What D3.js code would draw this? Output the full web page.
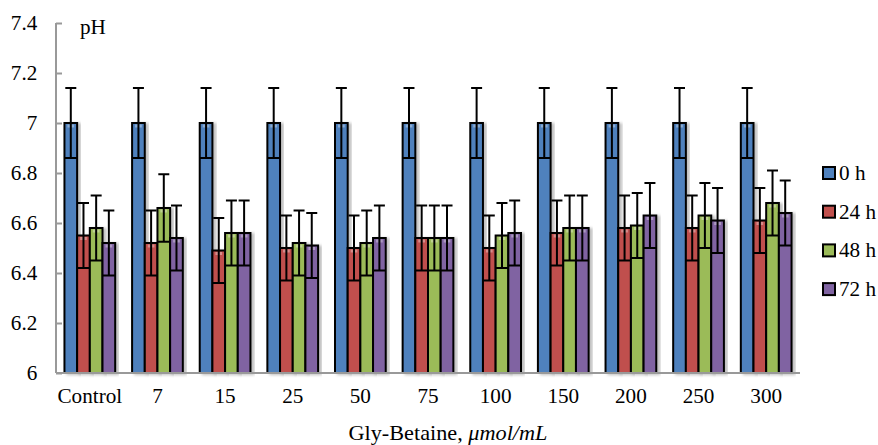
<!DOCTYPE html>
<html>
<head>
<meta charset="utf-8">
<script src="https://cdn.jsdelivr.net/npm/d3@7"></script>
<style>
html,body{margin:0;padding:0;background:#fff;}
svg text{font-family:"Liberation Serif","Times New Roman",serif;fill:#000;}
</style>
</head>
<body>
<svg id="chart" width="878" height="445"></svg>
<script>
const categories = ["Control","7","15","25","50","75","100","150","200","250","300"];
const seriesNames = ["0 h","24 h","48 h","72 h"];
const colors = ["#4F81BD","#C0504D","#9BBB59","#8064A2"];
const values0h  = [7.00,7.00,7.00,7.00,7.00,7.00,7.00,7.00,7.00,7.00,7.00];
const values24h = [6.55,6.52,6.49,6.50,6.50,6.54,6.50,6.56,6.58,6.58,6.61];
const values48h = [6.58,6.66,6.56,6.52,6.52,6.54,6.55,6.58,6.59,6.63,6.68];
const values72h = [6.52,6.54,6.56,6.51,6.54,6.54,6.56,6.58,6.63,6.61,6.64];
const errors0h  = [0.14,0.14,0.14,0.14,0.14,0.14,0.14,0.14,0.14,0.14,0.14];
const errors24h = [0.13,0.13,0.13,0.13,0.13,0.13,0.13,0.13,0.13,0.13,0.13];
const errors48h = [0.13,0.135,0.13,0.13,0.13,0.13,0.13,0.13,0.13,0.13,0.13];
const errors72h = [0.13,0.13,0.13,0.13,0.13,0.13,0.13,0.13,0.13,0.13,0.13];
const yTicks = [6,6.2,6.4,6.6,6.8,7,7.2,7.4];

const allValues = [values0h,values24h,values48h,values72h];
const allErrors = [errors0h,errors24h,errors48h,errors72h];

const svg = d3.select("#chart");
const mLeft = 56, mRight = 800, mTop = 23, mBottom = 373;
const SX = 1.06; // slight horizontal text stretch seen in the reference
const FS = 20;

const x = d3.scaleBand().domain(categories).range([mLeft,mRight]).paddingInner(0.25).paddingOuter(0.125);
const xs = d3.scaleBand().domain(seriesNames).range([0,x.bandwidth()]);
const y = d3.scaleLinear().domain([6,7.4]).range([mBottom,mTop]);

const defs = svg.append("defs");
const f = defs.append("filter").attr("id","sh").attr("x","-30%").attr("y","-10%").attr("width","160%").attr("height","120%");
f.append("feDropShadow").attr("dx",3).attr("dy",1).attr("stdDeviation",1.5).attr("flood-color","#000").attr("flood-opacity",0.25);

// y axis
const yAxis = svg.append("g").attr("transform",`translate(${mLeft},0)`)
  .call(d3.axisLeft(y).tickValues(yTicks).tickSize(-6).tickPadding(17.6).tickFormat(d=>String(+d.toFixed(1))));
yAxis.select(".domain").attr("stroke","#999").attr("stroke-width",2).attr("d",`M0,${mBottom}V${mTop}`);
yAxis.selectAll(".tick line").attr("stroke","#999").attr("stroke-width",2);
yAxis.selectAll(".tick text").attr("font-size",FS).attr("font-family","Liberation Serif").attr("fill","#000")
  .attr("transform",`scale(${SX},1)`);

// bars
const groups = svg.append("g").selectAll("g").data(categories).join("g")
  .attr("transform",d=>`translate(${x(d)},0)`);
const barData = (c,i)=>seriesNames.map((s,k)=>({s,k,v:allValues[k][i],e:allErrors[k][i]}));
groups.each(function(c,i){
  const g = d3.select(this);
  const d = barData(c,i);
  g.selectAll("rect.bar").data(d).join("rect").attr("class","bar")
    .attr("x",b=>xs(b.s)).attr("width",xs.bandwidth())
    .attr("y",b=>y(b.v)).attr("height",b=>y(6)-y(b.v))
    .attr("fill",b=>colors[b.k]).attr("stroke","#000").attr("stroke-width",2)
    .attr("filter","url(#sh)");
  g.selectAll("rect.hl").data(d).join("rect").attr("class","hl")
    .attr("x",b=>xs(b.s)+3).attr("width",xs.bandwidth()-6)
    .attr("y",b=>y(b.v)+1.5).attr("height",3)
    .attr("fill","#fff").attr("opacity",0.35);
  g.selectAll("line.ev").data(d).join("line").attr("class","ev")
    .attr("x1",b=>xs(b.s)+xs.bandwidth()/2).attr("x2",b=>xs(b.s)+xs.bandwidth()/2)
    .attr("y1",b=>y(b.v-b.e)).attr("y2",b=>y(b.v+b.e))
    .attr("stroke","#000").attr("stroke-width",2);
  g.selectAll("line.ct").data(d).join("line").attr("class","ct")
    .attr("x1",b=>xs(b.s)+xs.bandwidth()/2-5.5).attr("x2",b=>xs(b.s)+xs.bandwidth()/2+5.5)
    .attr("y1",b=>y(b.v+b.e)).attr("y2",b=>y(b.v+b.e))
    .attr("stroke","#000").attr("stroke-width",2);
  g.selectAll("line.cb").data(d).join("line").attr("class","cb")
    .attr("x1",b=>xs(b.s)).attr("x2",b=>xs(b.s)+xs.bandwidth())
    .attr("y1",b=>y(b.v-b.e)).attr("y2",b=>y(b.v-b.e))
    .attr("stroke","#000").attr("stroke-width",2);
});

// x axis
const xAxis = svg.append("g").attr("transform",`translate(0,${mBottom})`)
  .call(d3.axisBottom(x).tickSize(0).tickPadding(16));
xAxis.select(".domain").attr("stroke","#999").attr("stroke-width",2).attr("d",`M${mLeft},0H${mRight}`);
xAxis.selectAll(".tick text").attr("font-size",FS).attr("font-family","Liberation Serif").attr("fill","#000")
  .attr("transform",`scale(${SX},1)`);

// pH label
svg.append("text").attr("transform",`translate(80,34) scale(${SX},1)`).attr("font-size",FS).text("pH");

// x title
const xt = svg.append("text").attr("transform",`translate(${(mLeft+mRight)/2+20},440) scale(${SX},1)`)
  .attr("text-anchor","middle").attr("font-size",21);
xt.append("tspan").text("Gly-Betaine, ");
xt.append("tspan").attr("font-style","italic").text("μmol/mL");

// legend
const lg = svg.append("g").selectAll("g").data(seriesNames).join("g")
  .attr("transform",(d,i)=>`translate(822,${173+i*38.7})`);
lg.append("rect").attr("x",1).attr("y",-6).attr("width",12).attr("height",12)
  .attr("fill",(d,i)=>colors[i]).attr("stroke","#000").attr("stroke-width",2);
lg.append("text").attr("transform",`translate(17,0) scale(${SX},1)`).attr("dy","0.35em").attr("font-size",FS).text(d=>d);
</script>
</body>
</html>
